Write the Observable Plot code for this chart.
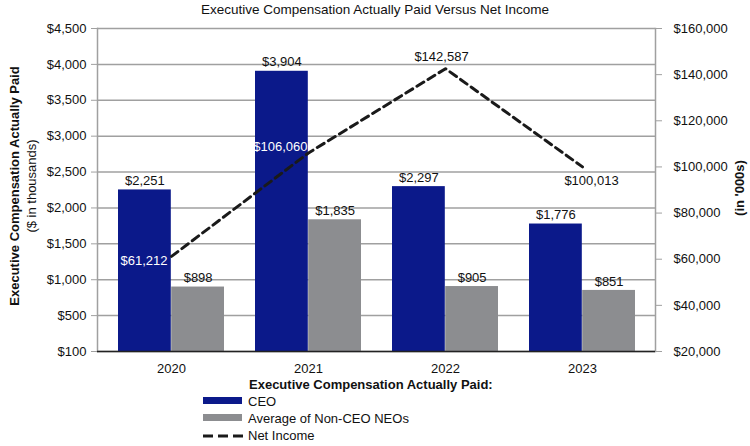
<!DOCTYPE html>
<html><head><meta charset="utf-8">
<script src="https://cdn.jsdelivr.net/npm/d3@7"></script>
<script src="https://cdn.jsdelivr.net/npm/@observablehq/plot@0.6"></script>
<style>
body{margin:0;background:#fff;font-family:"Liberation Sans",Arial,Helvetica,sans-serif;color:#111;}
#wrap{position:relative;width:750px;height:446px;overflow:hidden;}
#title{position:absolute;left:0;top:2px;width:750px;text-align:center;font-size:13.5px;line-height:15px;}
#chart{position:absolute;left:0;top:20px;}
.rot{position:absolute;white-space:nowrap;font-size:13px;line-height:15px;}
.lg{position:absolute;font-size:13px;line-height:15px;white-space:nowrap;}
.sw{position:absolute;width:39px;height:7px;}
</style></head>
<body>
<div id="wrap">
  <div id="title">Executive Compensation Actually Paid Versus Net Income</div>
  <div id="chart"></div>
  <div class="rot" style="left:14px;top:186px;font-weight:bold;transform:translate(-50%,-50%) rotate(-90deg);">Executive Compensation Actually Paid</div>
  <div class="rot" style="left:31px;top:186px;transform:translate(-50%,-50%) rotate(-90deg);">($ in thousands)</div>
  <div class="rot" style="left:739px;top:188px;font-weight:bold;transform:translate(-50%,-50%) rotate(-90deg);">(in '000s)</div>
  <div class="lg" style="left:249px;top:377px;font-weight:bold;">Executive Compensation Actually Paid:</div>
  <div class="sw" style="left:203px;top:397px;background:#0b198a;"></div>
  <div class="lg" style="left:248px;top:394px;">CEO</div>
  <div class="sw" style="left:203px;top:414px;background:#8c8d90;"></div>
  <div class="lg" style="left:248px;top:411px;">Average of Non-CEO NEOs</div>
  <svg style="position:absolute;left:203px;top:431px;" width="40" height="10"><line x1="0" y1="5" x2="40" y2="5" stroke="#1a1a1a" stroke-width="3" stroke-dasharray="10,5"/></svg>
  <div class="lg" style="left:248px;top:428px;">Net Income</div>
</div>
<script>
const years = ["2020", "2021", "2022", "2023"];
const ceoPay = [2251, 3904, 2297, 1776];
const neoPay = [898, 1835, 905, 851];
const netIncome = [61212, 106060, 142587, 100013];
const leftTicks = [0, 500, 1000, 1500, 2000, 2500, 3000, 3500, 4000, 4500];
const leftTickLabels = ["$100", "$500", "$1,000", "$1,500", "$2,000", "$2,500", "$3,000", "$3,500", "$4,000", "$4,500"];
const rightTicks = [20000, 40000, 60000, 80000, 100000, 120000, 140000, 160000];

const rightMin = 20000, rightMax = 160000, leftMax = 4500;
const toLeft = v => (v - rightMin) / (rightMax - rightMin) * leftMax;
const fromLeft = v => v / leftMax * (rightMax - rightMin) + rightMin;
const fmt = d3.format(",");

const ceoRows = years.map((y, i) => ({year: y, value: ceoPay[i]}));
const neoRows = years.map((y, i) => ({year: y, value: neoPay[i]}));
const niRows = years.map((y, i) => ({year: y, value: netIncome[i]}));

const HALF = 53.2;
const gridColor = "#a0a0a0";

const plot = Plot.plot({
  width: 750, height: 356,
  marginLeft: 97, marginRight: 95, marginTop: 8, marginBottom: 25,
  style: {fontFamily: '"Liberation Sans", Arial, Helvetica, sans-serif', fontSize: "13px", color: "#111", background: "transparent"},
  x: {type: "band", domain: years, paddingInner: 0.227, paddingOuter: 0.142, label: null},
  y: {domain: [0, 4500], label: null},
  marks: [
    Plot.ruleY(leftTicks, {stroke: gridColor, strokeWidth: 1.5}),
    Plot.frame({anchor: "left", stroke: gridColor, strokeWidth: 1.5}),
    Plot.frame({anchor: "right", stroke: gridColor, strokeWidth: 1.5}),
    Plot.barY(ceoRows, {x: "year", y: "value", fill: "#0b198a", insetLeft: 0, insetRight: HALF}),
    Plot.barY(neoRows, {x: "year", y: "value", fill: "#8c8d90", insetLeft: HALF, insetRight: 0}),
    Plot.ruleY([0], {stroke: "#222", strokeWidth: 1.5}),
    Plot.text(ceoRows, {x: "year", y: "value", text: d => "$" + fmt(d.value), dx: -HALF / 2, dy: -9, fill: "#111", fontSize: 13}),
    Plot.text(neoRows, {x: "year", y: "value", text: d => "$" + fmt(d.value), dx: HALF / 2, dy: -9, fill: "#111", fontSize: 13}),
    Plot.line(niRows, {x: "year", y: d => toLeft(d.value), stroke: "#1a1a1a", strokeWidth: 3, strokeDasharray: "8,5"}),
    Plot.text(niRows, {filter: d => d.year === "2020", x: "year", y: d => toLeft(d.value), text: d => "$" + fmt(d.value), textAnchor: "end", dx: -4, dy: 4, fill: "white", fontSize: 13}),
    Plot.text(niRows, {filter: d => d.year === "2021", x: "year", y: d => toLeft(d.value), text: d => "$" + fmt(d.value), textAnchor: "end", dx: -1, dy: -6, fill: "white", fontSize: 13}),
    Plot.text(niRows, {filter: d => d.year === "2022", x: "year", y: d => toLeft(d.value), text: d => "$" + fmt(d.value), dx: -4, dy: -12, fill: "#111", fontSize: 13}),
    Plot.text(niRows, {filter: d => d.year === "2023", x: "year", y: d => toLeft(d.value), text: d => "$" + fmt(d.value), dx: 9, dy: 14, fill: "#111", fontSize: 13}),
    Plot.axisX({tickSize: 0, tickPadding: 12, fontSize: 13, label: null}),
    Plot.axisY({anchor: "left", ticks: leftTicks, tickFormat: d => leftTickLabels[leftTicks.indexOf(d)], tickSize: 6, tickPadding: 5, stroke: gridColor, fill: "#111", fontSize: 13, label: null}),
    Plot.axisY({anchor: "right", ticks: rightTicks.map(toLeft), tickFormat: d => "$" + fmt(Math.round(fromLeft(d))), tickSize: 6, tickPadding: 12, stroke: gridColor, fill: "#111", fontSize: 13, label: null})
  ]
});
document.getElementById("chart").appendChild(plot);
</script>
</body></html>
